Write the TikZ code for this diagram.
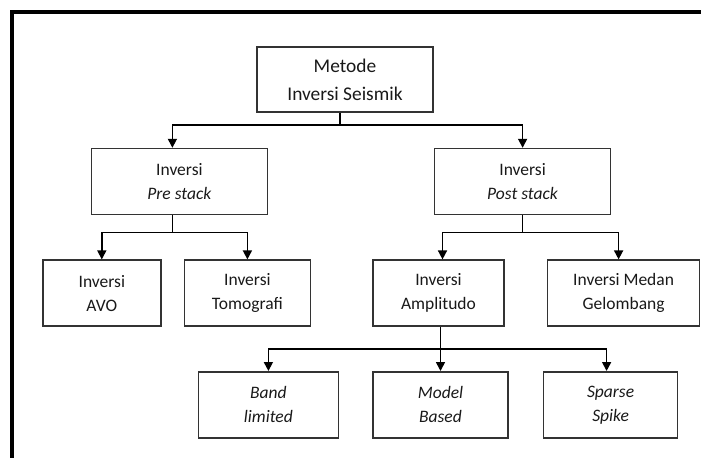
\documentclass[tikz,border=0pt]{standalone}
\usepackage{fontspec}
\setmainfont{Carlito}
\usepackage{xcolor}
\usepackage{tikz}
\usetikzlibrary{arrows.meta, positioning}

\tikzset{
  box/.style={draw=black!80, line width=1.6pt, align=center, text=black!90,
    minimum height=66pt, inner sep=2pt, font=\fontsize{17.5}{24}\selectfont},
  line/.style={draw=black, line width=1.6pt},
  arrow/.style={line, -{Triangle[width=9pt,length=9pt]}},
  frame/.style={draw=black, line width=4pt}
}

\begin{document}
\begin{tikzpicture}[x=1pt, y=1pt]
        \useasboundingbox (0,0) rectangle (701,-458);
        \draw[frame] (701,-12) -- (12,-12) -- (12,-458);

        \node[box, minimum width=176pt, minimum height=65pt,
              font=\fontsize{19.4}{28}\selectfont] (metode) at (345,-79.5) {Metode\\Inversi Seismik};
        \node[box, minimum width=176pt] (pre) [below left=35pt and -12pt of metode] {Inversi\\\textit{Pre stack}};
        \node[box, minimum width=176pt] (post) [below right=35pt and 0pt of metode] {Inversi\\\textit{Post stack}};

        \node[box, minimum width=118pt] (avo) [below left=44pt and -71pt of pre] {Inversi\\AVO};
        \node[box, minimum width=126pt] (tomo) [right=22pt of avo] {Inversi\\Tomografi};
        \node[box, minimum width=131pt] (ampl) [right=61pt of tomo] {Inversi\\Amplitudo};
        \node[box, minimum width=152pt] (medan) [right=42pt of ampl] {Inversi Medan\\Gelombang};

        \node[box, minimum width=140pt] (band) [below left=44pt and 33pt of ampl] {\textit{Band}\\\textit{limited}};
        \node[box, minimum width=135pt] (model) [right=33pt of band] {\textit{Model}\\\textit{Based}};
        \node[box, minimum width=134pt] (sparse) [right=34pt of model] {\textit{Sparse}\\\textit{Spike}};

        % cabang
        \draw[line] ([xshift=-5pt]metode.south) -- ++(0,-12) coordinate (jm);
        \draw[arrow] (jm) -| ([xshift=-7pt]pre.north);
        \draw[arrow] (jm) -| (post.north);

        \draw[line] ([xshift=-7pt]pre.south) -- ++(0,-17) coordinate (jpre);
        \draw[arrow] (jpre) -| (avo.north);
        \draw[arrow] (jpre) -| (tomo.north);

        \draw[line] (post.south) -- ++(0,-17) coordinate (jpost);
        \draw[arrow] (jpost) -| ([xshift=4pt]ampl.north);
        \draw[arrow] (jpost) -| ([xshift=-5pt]medan.north);

        \draw[line] ([xshift=2pt]ampl.south) -- ++(0,-22) coordinate (jampl);
        \draw[arrow] (jampl) -| (band.north);
        \draw[arrow] (jampl) -| (model.north);
        \draw[arrow] (jampl) -| ([xshift=-4pt]sparse.north);
\end{tikzpicture}
\end{document}
